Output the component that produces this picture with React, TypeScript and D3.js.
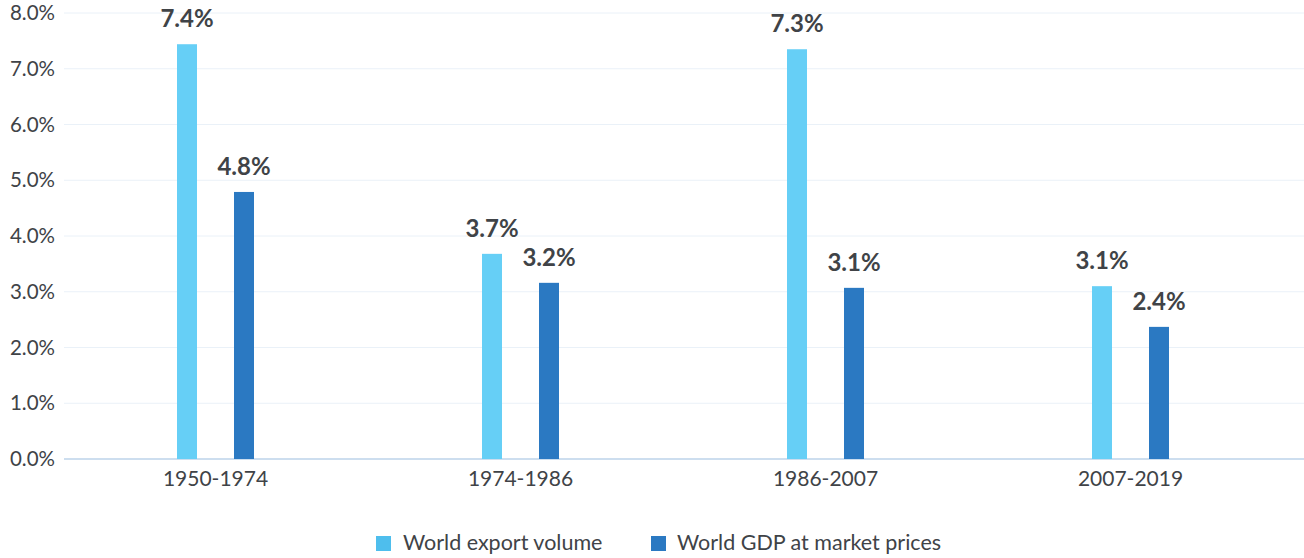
import React from "react";
import * as d3 from "d3";

const categories = ["1950-1974", "1974-1986", "1986-2007", "2007-2019"];
const exportVolume = [7.44, 3.68, 7.35, 3.1];
const gdpMarket = [4.79, 3.16, 3.07, 2.37];
const exportLabels = ["7.4%", "3.7%", "7.3%", "3.1%"];
const gdpLabels = ["4.8%", "3.2%", "3.1%", "2.4%"];
const yTicks = [0, 1, 2, 3, 4, 5, 6, 7, 8];
const seriesNames = ["World export volume", "World GDP at market prices"];

const W = 1304;
const H = 558;
const FONT = "Lato, 'Open Sans', sans-serif";
const LIGHT = "#66cff6";
const DARK = "#2b79c2";
const TEXT = "#404347";

export default function App() {
  const x = d3.scaleBand<string>().domain(categories).range([63, 1283]);
  const y = d3.scaleLinear().domain([0, 8]).range([459, 13]);
  const bw = 20;
  const off = 28.5;
  const fmt = (v: number) => v.toFixed(1) + "%";
  return (
    <svg width={W} height={H} style={{ position: "absolute", left: 0, top: 0 }} fontFamily={FONT}>
      {yTicks.map((t) => (
        <g key={t}>
          <line x1={64} x2={W} y1={y(t)} y2={y(t)} stroke={t === 0 ? "#bcd3ea" : "#eaf1f8"} strokeWidth={t === 0 ? 1.5 : 1} />
          <text x={55} y={y(t)} dy="0.35em" textAnchor="end" fontSize={20.5} fill={TEXT}>
            {fmt(t)}
          </text>
        </g>
      ))}
      {categories.map((c, i) => {
        const cx = (x(c) as number) + x.bandwidth() / 2;
        return (
          <g key={c}>
            <rect x={cx - off - bw / 2} y={y(exportVolume[i])} width={bw} height={y(0) - y(exportVolume[i])} fill={LIGHT} />
            <rect x={cx + off - bw / 2} y={y(gdpMarket[i])} width={bw} height={y(0) - y(gdpMarket[i])} fill={DARK} />
            <text x={cx - off} y={y(exportVolume[i]) - 17} textAnchor="middle" fontSize={24} fontWeight="bold" fill={TEXT}>
              {exportLabels[i]}
            </text>
            <text x={cx + off} y={y(gdpMarket[i]) - 17} textAnchor="middle" fontSize={24} fontWeight="bold" fill={TEXT}>
              {gdpLabels[i]}
            </text>
            <text x={cx} y={486} textAnchor="middle" fontSize={21} fill={TEXT}>
              {c}
            </text>
          </g>
        );
      })}
      <g>
        <rect x={376} y={536} width={15} height={15} fill="#4ebeed" />
        <text x={403} y={550} fontSize={21.5} fill={TEXT}>{seriesNames[0]}</text>
        <rect x={651} y={536} width={15} height={15} fill={DARK} />
        <text x={677} y={550} fontSize={21.5} fill={TEXT}>{seriesNames[1]}</text>
      </g>
    </svg>
  );
}
